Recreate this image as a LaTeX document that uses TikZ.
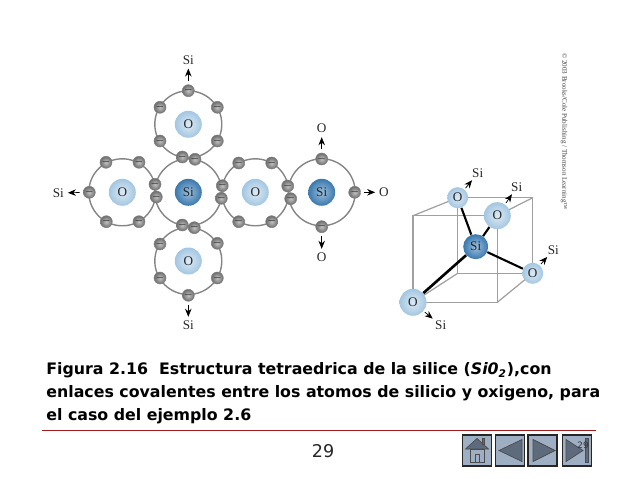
\documentclass[tikz,border=0pt]{standalone}
\usepackage{fontspec}
\setmainfont{DejaVu Sans}
\newfontfamily\figfont{Liberation Serif}
\usetikzlibrary{arrows.meta, shadings}
\definecolor{oxIn}{HTML}{DCEAF5}
\definecolor{oxOut}{HTML}{A3C6E1}
\definecolor{siIn}{HTML}{9CC0DE}
\definecolor{siOut}{HTML}{3A78AD}
\definecolor{ringGrey}{HTML}{858585}
\definecolor{elecIn}{HTML}{C4C4C4}
\definecolor{elecOut}{HTML}{6C6C6C}
\definecolor{edgeGrey}{HTML}{A0A0A0}
\definecolor{ruleRed}{HTML}{A02020}
\definecolor{btnBlue}{HTML}{9EAFC3}
\definecolor{btnIcon}{HTML}{5E6B7C}
\tikzset{
  ring/.style     = {circle, draw=ringGrey, line width=0.8pt, minimum size=1.34cm, inner sep=0pt},
  oxatom/.style   = {circle, inner color=oxIn, outer color=oxOut, inner sep=0pt,
                     font=\figfont\fontsize{7.5}{8}\selectfont, text=black!85},
  siatom/.style   = {circle, inner color=siIn, outer color=siOut, inner sep=0pt,
                     font=\figfont\fontsize{7.5}{8}\selectfont, text=black!85},
  electron/.style = {circle, inner color=elecIn, outer color=elecOut, draw=black!50, line width=0.3pt,
                     minimum size=0.235cm, inner sep=0pt, font=\fontsize{5}{5}\selectfont},
  lbl/.style      = {font=\figfont\fontsize{7.5}{8}\selectfont, inner sep=1pt, text=black!85},
  outarrow/.style = {-{Stealth[length=1.6mm,width=1.3mm]}, line width=0.4pt, black,
                     shorten <=0.07cm, shorten >=0.04cm},
  cubearrow/.style = {outarrow, shorten <=0.03cm, shorten >=0.01cm},
  cubeedge/.style = {edgeGrey, line width=0.7pt},
  bond/.style     = {black, line width=1.2pt},
  navbtn/.style   = {rectangle, draw=black!85, line width=1pt, fill=btnBlue, minimum width=0.58cm,
                     minimum height=0.62cm, inner sep=0pt},
  navicon/.style  = {draw=black!70, line width=0.4pt, fill=btnIcon},
}
\begin{document}
\begin{tikzpicture}[x=0.02cm,y=-0.02cm]
  \useasboundingbox (0,0) rectangle (638,479);
  % rings
  \node[ring] (ringtop) at (188.3,124.3) {};
  \node[ring] (ringleft) at (122.3,192.3) {};
  \node[ring] (ringmid) at (188.3,192.3) {};
  \node[ring] (ringright) at (255.3,192.3) {};
  \node[ring] (ringsi) at (321.7,192.3) {};
  \node[ring] (ringbot) at (188.3,261) {};
  % nuclei
  \node[oxatom, minimum size=0.54cm] (otop) at (ringtop) {O};
  \node[oxatom, minimum size=0.54cm] (oleft) at (ringleft) {O};
  \node[siatom, minimum size=0.54cm] (simid) at (ringmid) {Si};
  \node[oxatom, minimum size=0.54cm] (oright) at (ringright) {O};
  \node[siatom, minimum size=0.54cm] (siright) at (ringsi) {Si};
  \node[oxatom, minimum size=0.54cm] (obot) at (ringbot) {O};
  % electrons
  \foreach \ex/\ey [count=\i] in {160/107.3, 217.3/107.3, 160/141, 217.3/141, 182.3/157, 195/159.3,
      106/162.3, 139/162.3, 106.3/221.7, 139/221.7, 155/184.3, 156.3/197,
      238.7/163, 271.7/163, 238.7/221.7, 271.7/221.7, 222.3/185.7, 221.3/198.3, 287.7/186, 290.7/198.7,
      182.3/225, 194.3/227.7, 160/244, 217.3/243.3, 160/278, 217.3/278}
    \node[electron] (e\i) at (\ex,\ey) {$-$};
  \node[electron] (etop) at (188.3,90.7) {$-$};
  \node[electron] (ebot) at (188.3,295.3) {$-$};
  \node[electron] (eleft) at (89.3,192.3) {$-$};
  \node[electron] (esin) at (321.7,159) {$-$};
  \node[electron] (esie) at (354.7,192.3) {$-$};
  \node[electron] (esis) at (321.7,226.7) {$-$};
  % outer neighbours
  \node[lbl] (ltop) at (188.3,60) {Si};
  \node[lbl] (lbot) at (188.3,325.3) {Si};
  \node[lbl] (lleft) at (58.3,193) {Si};
  \node[lbl] (lsin) at (321.7,128.7) {O};
  \node[lbl] (lsie) at (384,192.3) {O};
  \node[lbl] (lsis) at (321.7,257.3) {O};
  \draw[outarrow] (etop) -- (ltop);
  \draw[outarrow] (ebot) -- (lbot);
  \draw[outarrow] (eleft) -- (lleft);
  \draw[outarrow] (esin) -- (lsin);
  \draw[outarrow] (esie) -- (lsie);
  \draw[outarrow] (esis) -- (lsis);
  % cube
  \coordinate (bl) at (457.7,273.3);
  \coordinate (ftl) at (413,215.7);
  \coordinate (fbr) at (497.3,302.3);
  \coordinate (btr) at (532.7,197.7);
  \coordinate (back) at (457.7,197.7);
  \coordinate (front) at (497.3,215.7);
  \coordinate (side) at (532.7,273.3);
  \coordinate (low) at (413,302.3);
  \draw[cubeedge] (back) -- (btr) -- (side) -- (bl) -- cycle;
  \draw[cubeedge] (ftl) -- (front) -- (fbr) -- (low) -- cycle;
  \draw[cubeedge] (ftl) -- (back) (front) -- (btr);
  \draw[cubeedge] (fbr) -- (side) (low) -- (bl);
  \node[oxatom, minimum size=0.42cm] (cubeback) at (back) {O};
  \node[oxatom, minimum size=0.54cm] (cubefront) at (front) {O};
  \node[oxatom, minimum size=0.42cm] (cubeside) at (side) {O};
  \node[oxatom, minimum size=0.54cm] (cubelow) at (low) {O};
  \node[siatom, minimum size=0.5cm] (sicube) at (475.7,246.7) {Si};
  \draw[bond] (sicube) -- (cubeback);
  \draw[bond] (sicube) -- (cubefront);
  \draw[bond] (sicube) -- (cubeside);
  \draw[bond, line width=1.5pt] (sicube) -- (cubelow);
  \node[lbl] (lback) at (477.7,173.3) {Si};
  \node[lbl] (lfront) at (516.7,187.3) {Si};
  \node[lbl] (lside) at (553.3,250) {Si};
  \node[lbl] (llow) at (440.7,325.3) {Si};
  \draw[cubearrow] (cubeback) -- (lback);
  \draw[cubearrow] (cubefront) -- (lfront);
  \draw[cubearrow] (cubeside) -- (lside);
  \draw[cubearrow] (cubelow) -- (llow);
  \node[rotate=-90, font=\figfont\fontsize{4}{5}\selectfont, text=black!75, inner sep=0pt] (credit) at (564,131.5)
    {© 2003 Brooks/Cole Publishing / Thomson Learning™};
  % caption and footer
  \node[anchor=north west, align=left, inner sep=0pt, font=\bfseries\fontsize{9}{13}\selectfont, text=black] (caption) at (46,362.5)
    {Figura 2.16\ \ Estructura tetraedrica de la silice (\textit{Si0\textsubscript{2}}),con\\
     enlaces covalentes entre los atomos de silicio y oxigeno, para\\
     el caso del ejemplo 2.6};
  \coordinate (rulea) at (42,430.5);
  \coordinate (ruleb) at (596,430.5);
  \draw[ruleRed, line width=0.6pt] (rulea) -- (ruleb);
  \node[font=\fontsize{10}{12}\selectfont, inner sep=0pt, text=black!85] (pagenum) at (323,451) {29};
  % buttons
  \node[navbtn] (home) at (477,450.5) {};
  \node[navbtn] (prev) at (510,450.5) {};
  \node[navbtn] (next) at (542.5,450.5) {};
  \node[navbtn] (last) at (577,450.5) {};
  \draw[navicon] (465.5,449) -- (477,438.5) -- (488.5,449) -- cycle;
  \draw[navicon, fill=btnBlue] (470,449) rectangle (484,462);
  \draw[navicon, fill=btnBlue] (475,454) rectangle (479,462);
  \draw[navicon] (482,438) rectangle (484.5,444);
  \draw[navicon] (522,439.5) -- (499,450.5) -- (522,461.5) -- cycle;
  \draw[navicon] (533,439.5) -- (555,450.5) -- (533,461.5) -- cycle;
  \draw[navicon] (566,439.5) -- (583,450.5) -- (566,461.5) -- cycle;
  \draw[navicon] (585,438) rectangle (588,462);
  \node[font=\fontsize{5}{6}\selectfont, inner sep=0pt, text=black!80] (lastnum) at (583,445) {29};
\end{tikzpicture}
\end{document}
